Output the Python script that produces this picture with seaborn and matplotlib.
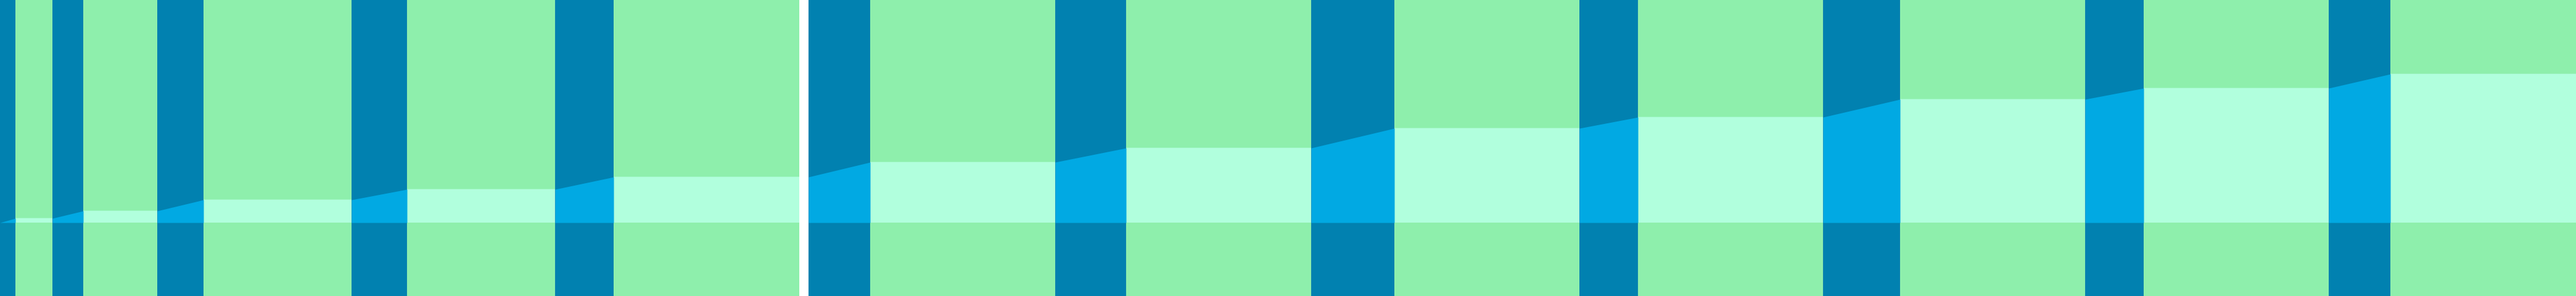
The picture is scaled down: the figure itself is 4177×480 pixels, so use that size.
import numpy as np
import pandas as pd
import matplotlib
matplotlib.use("Agg")
import matplotlib.pyplot as plt
import seaborn as sns

# transitions (x where each ramp starts / ends) and the plateau levels
trans_start = [0, 85, 255, 570, 900, 1311, 1711, 2126, 2561, 2956, 3381, 3776]
trans_end = [25, 135, 330, 660, 995, 1411, 1826, 2261, 2656, 3081, 3476, 3876]
levels = [0, 7, 19, 37, 54, 74, 98, 121, 153, 171, 200, 218, 241]
x_max = 4177
marker_span = [1296, 1311]

green = "#8eefac"
dark = "#0181b0"
light = "#b1ffdd"
bright = "#01a9e3"

# build the outline of the band
xs, ys = [], []
for i in range(len(trans_start)):
    xs += [trans_start[i], trans_end[i]]
    ys += [levels[i], levels[i + 1]]
xs.append(x_max)
ys.append(levels[-1])
band = pd.DataFrame({"x": xs, "y": ys})

sns.set_style("white")
fig = plt.figure(figsize=(41.77, 4.8), dpi=100)
fig.patch.set_facecolor(green)
ax = fig.add_axes([0, 0, 1, 1])
ax.set_facecolor(green)

# light band (plateaus)
ax.fill_between(band["x"], 0, band["y"], color=light, lw=0, zorder=1)
sns.lineplot(data=band, x="x", y="y", color=light, lw=0.5, ax=ax, zorder=1)

# dark ramps with the band drawn brighter inside
for s, e, a, b in zip(trans_start, trans_end, levels[:-1], levels[1:]):
    ax.axvspan(s, e, color=dark, lw=0, zorder=2)
    ax.fill_between([s, e], 0, [a, b], color=bright, lw=0, zorder=3)

ax.axvspan(marker_span[0], marker_span[1], color="white", lw=0, zorder=4)

ax.set_xlim(0, x_max)
ax.set_ylim(-119, 361)
ax.set_axis_off()

fig.savefig("out.png", dpi=100, facecolor=green)
